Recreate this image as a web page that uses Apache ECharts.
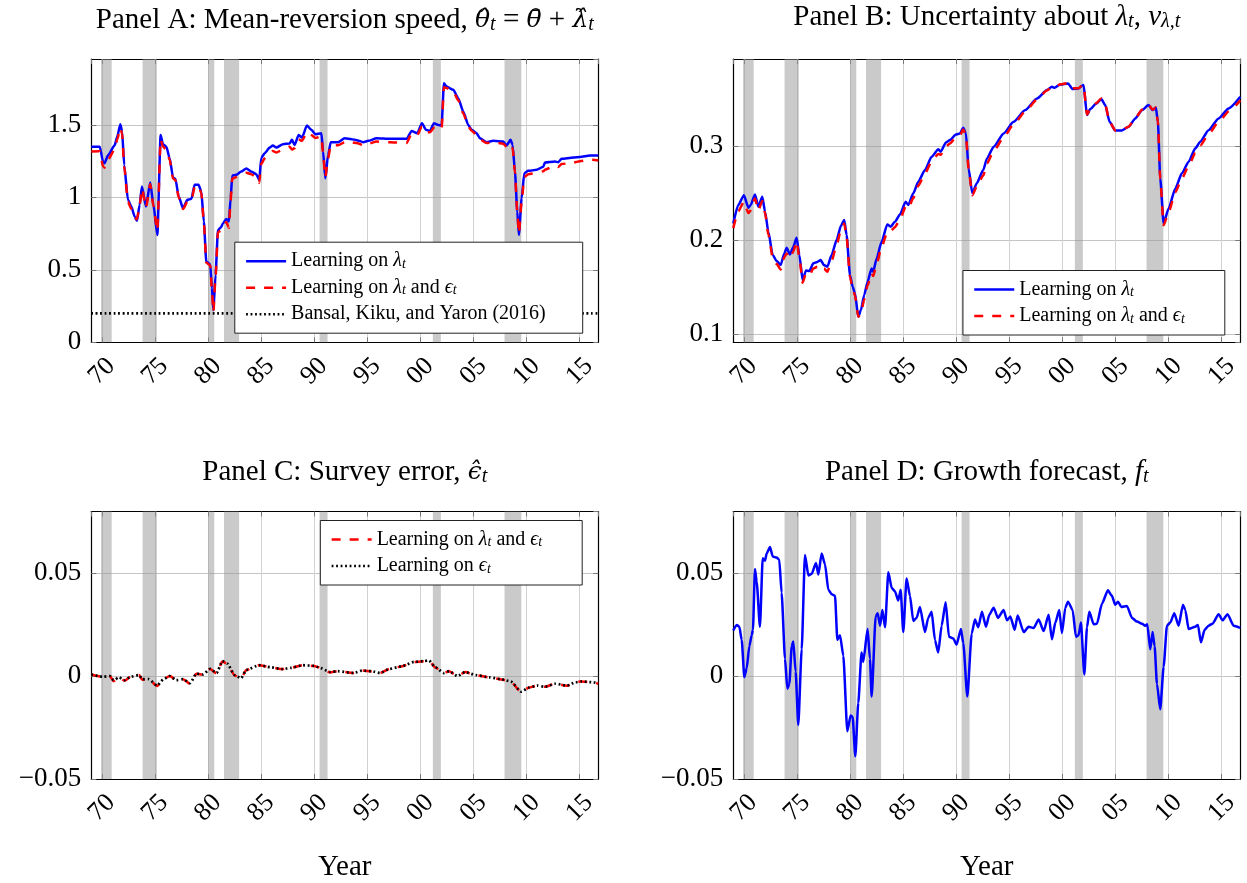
<!DOCTYPE html>
<html><head><meta charset="utf-8">
<script src="https://cdn.jsdelivr.net/npm/echarts@6/dist/echarts.min.js"></script>
<style>html,body{margin:0;padding:0;background:#fff}#c{width:1247px;height:883px}</style>
</head><body><div id="c"></div>
<script>
// ---------------- DATA ----------------
const xTickYears = [1970,1975,1980,1985,1990,1995,2000,2005,2010,2015];
const xTickLabels = ['70','75','80','85','90','95','00','05','10','15'];
const yTicksA = [0,0.5,1,1.5];           const yTickLabelsA = ['0','0.5','1','1.5'];
const yTicksB = [0.1,0.2,0.3];           const yTickLabelsB = ['0.1','0.2','0.3'];
const yTicksCD = [-0.05,0,0.05];         const yTickLabelsCD = ['\u22120.05','0','0.05'];

// NBER recessions [start, end] in years
const recessions = [[1969.92,1970.92],[1973.83,1975.17],[1980.0,1980.58],[1981.5,1982.92],[1990.5,1991.25],[2001.17,2001.92],[2007.92,2009.5]];

// Panel A: mean-reversion speed
const thetaLearnLam = [[1969.0,1.349],[1969.8,1.35],[1970.1,1.247],[1970.25,1.236],[1970.57,1.29],[1971.2,1.36],[1971.45,1.42],[1971.73,1.505],[1971.9,1.455],[1972.1,1.224],[1972.45,0.983],[1972.77,0.937],[1973.08,0.868],[1973.3,0.838],[1973.55,0.948],[1973.77,1.075],[1974.15,0.937],[1974.55,1.103],[1974.85,0.95],[1975.22,0.74],[1975.53,1.43],[1975.75,1.367],[1976.07,1.35],[1976.38,1.27],[1976.7,1.137],[1976.92,1.128],[1977.23,1.006],[1977.64,0.925],[1978.05,0.983],[1978.43,0.99],[1978.73,1.087],[1979.1,1.087],[1979.36,1.04],[1979.6,0.833],[1979.83,0.557],[1980.2,0.538],[1980.36,0.373],[1980.5,0.223],[1980.7,0.465],[1980.93,0.775],[1981.18,0.79],[1981.4,0.82],[1981.71,0.851],[1981.96,0.833],[1982.12,0.994],[1982.28,1.151],[1982.65,1.156],[1983.12,1.178],[1983.6,1.2],[1984.07,1.178],[1984.54,1.16],[1984.82,1.12],[1985.0,1.27],[1985.33,1.305],[1985.8,1.344],[1986.1,1.358],[1986.43,1.344],[1987.05,1.367],[1987.68,1.372],[1987.9,1.397],[1988.15,1.362],[1988.53,1.431],[1988.84,1.413],[1989.31,1.496],[1989.73,1.466],[1990.1,1.436],[1990.67,1.443],[1990.83,1.316],[1991.04,1.132],[1991.3,1.293],[1991.55,1.381],[1992.24,1.381],[1992.86,1.408],[1993.52,1.402],[1993.99,1.395],[1994.62,1.381],[1995.09,1.39],[1995.87,1.408],[1997.13,1.404],[1998.7,1.404],[1999.17,1.459],[1999.7,1.443],[2000.14,1.512],[2000.52,1.466],[2000.9,1.459],[2001.27,1.512],[2001.68,1.5],[2001.99,1.496],[2002.21,1.788],[2002.46,1.765],[2003.09,1.742],[2003.56,1.685],[2004.03,1.593],[2004.5,1.5],[2004.82,1.466],[2005.29,1.443],[2005.6,1.408],[2006.23,1.381],[2006.86,1.39],[2007.8,1.386],[2008.11,1.358],[2008.49,1.397],[2008.68,1.362],[2008.9,1.178],[2009.12,0.902],[2009.27,0.741],[2009.53,0.994],[2009.78,1.167],[2010.15,1.183],[2010.94,1.19],[2011.57,1.212],[2011.72,1.24],[2012.66,1.247],[2012.98,1.243],[2013.29,1.266],[2014.39,1.275],[2015.02,1.279],[2015.96,1.289],[2016.75,1.289]];
const thetaLearnLamEps = [[1969.0,1.317],[1969.8,1.318],[1970.1,1.215],[1970.25,1.205],[1970.57,1.26],[1971.2,1.33],[1971.45,1.40],[1971.73,1.48],[1971.9,1.44],[1972.1,1.21],[1972.45,0.97],[1972.77,0.92],[1973.08,0.86],[1973.3,0.85],[1973.55,0.94],[1973.77,1.06],[1974.15,0.93],[1974.55,1.09],[1974.85,0.94],[1975.22,0.77],[1975.53,1.40],[1975.75,1.35],[1976.07,1.33],[1976.38,1.26],[1976.7,1.13],[1976.92,1.12],[1977.23,1.0],[1977.64,0.92],[1978.05,0.97],[1978.43,0.98],[1978.73,1.07],[1979.1,1.08],[1979.36,1.03],[1979.6,0.83],[1979.83,0.55],[1980.2,0.53],[1980.36,0.36],[1980.5,0.21],[1980.7,0.45],[1980.93,0.76],[1981.18,0.77],[1981.4,0.80],[1981.71,0.83],[1981.96,0.79],[1982.12,0.98],[1982.28,1.13],[1982.65,1.14],[1983.12,1.16],[1983.6,1.17],[1984.07,1.16],[1984.54,1.14],[1984.82,1.10],[1985.0,1.23],[1985.33,1.27],[1985.8,1.30],[1986.1,1.32],[1986.43,1.31],[1987.05,1.33],[1987.68,1.35],[1987.9,1.33],[1988.15,1.34],[1988.53,1.40],[1988.84,1.39],[1989.31,1.45],[1989.73,1.43],[1990.1,1.41],[1990.67,1.42],[1990.83,1.30],[1991.04,1.14],[1991.3,1.27],[1991.55,1.36],[1992.24,1.36],[1992.86,1.38],[1993.52,1.38],[1993.99,1.375],[1994.62,1.36],[1995.09,1.37],[1995.87,1.385],[1997.13,1.38],[1998.7,1.375],[1999.17,1.44],[1999.7,1.43],[2000.14,1.49],[2000.52,1.45],[2000.9,1.45],[2001.27,1.48],[2001.68,1.48],[2001.99,1.47],[2002.21,1.76],[2002.46,1.755],[2003.09,1.73],[2003.56,1.67],[2004.03,1.58],[2004.5,1.49],[2004.82,1.46],[2005.29,1.43],[2005.6,1.40],[2006.23,1.375],[2006.86,1.38],[2007.8,1.37],[2008.11,1.35],[2008.49,1.37],[2008.68,1.34],[2008.9,1.17],[2009.12,0.90],[2009.27,0.75],[2009.53,0.97],[2009.78,1.14],[2010.15,1.16],[2010.94,1.17],[2011.57,1.18],[2011.72,1.19],[2012.66,1.22],[2012.98,1.21],[2013.29,1.23],[2014.39,1.24],[2015.02,1.25],[2015.96,1.26],[2016.75,1.255]];
const bkyTheta = [[1969.0,0.2],[2016.75,0.2]];

// Panel B: uncertainty about lambda
const nuLearnLam = [[1969.0,0.218],[1969.47,0.2376],[1970.0,0.248],[1970.42,0.2347],[1970.64,0.2376],[1971.04,0.2489],[1971.36,0.2358],[1971.73,0.2464],[1971.99,0.2305],[1972.3,0.2092],[1972.71,0.1844],[1973.08,0.178],[1973.46,0.1737],[1973.8,0.186],[1974.02,0.192],[1974.34,0.185],[1974.65,0.193],[1974.96,0.2028],[1975.22,0.1844],[1975.53,0.1578],[1975.85,0.168],[1976.16,0.1673],[1976.54,0.1755],[1976.91,0.177],[1977.23,0.179],[1977.54,0.1737],[1977.86,0.172],[1978.26,0.1844],[1978.73,0.2003],[1979.14,0.2156],[1979.45,0.2216],[1979.67,0.2056],[1979.99,0.163],[1980.24,0.1507],[1980.46,0.1436],[1980.77,0.1187],[1981.02,0.1258],[1981.33,0.1418],[1981.65,0.156],[1982.02,0.170],[1982.18,0.1666],[1982.5,0.1808],[1982.97,0.1985],[1983.5,0.217],[1983.82,0.2145],[1984.22,0.2198],[1984.7,0.2276],[1985.23,0.241],[1985.48,0.2376],[1985.95,0.25],[1986.42,0.2624],[1987.05,0.2748],[1987.68,0.289],[1988.31,0.297],[1988.53,0.2943],[1989.03,0.3042],[1989.41,0.3067],[1989.97,0.3127],[1990.35,0.3138],[1990.66,0.3198],[1990.91,0.3138],[1991.16,0.2766],[1991.51,0.25],[1991.92,0.2606],[1992.54,0.2748],[1992.89,0.2872],[1993.52,0.2996],[1994.46,0.3138],[1995.4,0.3262],[1996.5,0.3386],[1997.6,0.351],[1998.54,0.3599],[1999.01,0.3634],[1999.26,0.3624],[1999.8,0.3659],[2000.52,0.367],[2000.96,0.361],[2001.52,0.3617],[2001.84,0.3645],[2001.99,0.3652],[2002.31,0.3333],[2002.62,0.3397],[2003.19,0.3457],[2003.66,0.3503],[2004.03,0.344],[2004.44,0.3262],[2004.97,0.317],[2005.6,0.317],[2006.23,0.3209],[2006.86,0.3298],[2007.49,0.3386],[2008.11,0.344],[2008.49,0.3386],[2008.8,0.341],[2008.99,0.3262],[2009.21,0.2659],[2009.53,0.218],[2010.0,0.234],[2010.63,0.2553],[2011.25,0.2713],[2011.88,0.2836],[2012.51,0.2979],[2012.98,0.305],[2013.76,0.3173],[2014.71,0.3298],[2015.65,0.3404],[2016.75,0.3528]];
const nuLearnLamEps = [[1969.0,0.213],[1969.47,0.231],[1970.0,0.241],[1970.42,0.229],[1970.64,0.232],[1971.04,0.2446],[1971.36,0.232],[1971.73,0.242],[1971.99,0.229],[1972.3,0.206],[1972.71,0.182],[1973.08,0.175],[1973.46,0.169],[1973.8,0.182],[1974.02,0.186],[1974.34,0.181],[1974.65,0.188],[1974.96,0.199],[1975.22,0.182],[1975.53,0.155],[1975.85,0.165],[1976.16,0.163],[1976.54,0.17],[1976.91,0.172],[1977.23,0.174],[1977.54,0.170],[1977.86,0.1666],[1978.26,0.178],[1978.73,0.195],[1979.14,0.211],[1979.45,0.218],[1979.67,0.204],[1979.99,0.161],[1980.24,0.149],[1980.46,0.141],[1980.77,0.1187],[1981.02,0.122],[1981.33,0.137],[1981.65,0.152],[1982.02,0.165],[1982.18,0.162],[1982.5,0.175],[1982.97,0.193],[1983.5,0.209],[1983.82,0.210],[1984.22,0.214],[1984.7,0.222],[1985.23,0.236],[1985.48,0.234],[1985.95,0.245],[1986.42,0.258],[1987.05,0.271],[1987.68,0.284],[1988.31,0.292],[1988.53,0.291],[1989.03,0.300],[1989.41,0.303],[1989.97,0.310],[1990.35,0.312],[1990.66,0.318],[1990.91,0.312],[1991.16,0.276],[1991.51,0.248],[1991.92,0.257],[1992.54,0.269],[1992.89,0.282],[1993.52,0.295],[1994.46,0.3095],[1995.4,0.3235],[1996.5,0.337],[1997.6,0.350],[1998.54,0.3595],[1999.01,0.363],[1999.26,0.363],[1999.8,0.366],[2000.52,0.3675],[2000.96,0.362],[2001.52,0.362],[2001.84,0.3645],[2001.99,0.365],[2002.31,0.334],[2002.62,0.340],[2003.19,0.346],[2003.66,0.351],[2004.03,0.3445],[2004.44,0.326],[2004.97,0.317],[2005.6,0.3175],[2006.23,0.321],[2006.86,0.330],[2007.49,0.339],[2008.11,0.3445],[2008.49,0.339],[2008.8,0.3415],[2008.99,0.326],[2009.21,0.265],[2009.53,0.216],[2010.0,0.230],[2010.63,0.251],[2011.25,0.266],[2011.88,0.279],[2012.51,0.293],[2012.98,0.301],[2013.76,0.313],[2014.71,0.326],[2015.65,0.337],[2016.75,0.349]];

// Panel C: survey error
const epsLearnLamEps = [[1969.0,0.0008],[1970.08,-0.0004],[1970.75,0.0],[1971.1,-0.0025],[1971.6,-0.0006],[1972.13,-0.0022],[1972.7,-0.0003],[1973.5,0.0006],[1973.8,-0.0018],[1974.4,-0.0015],[1975.2,-0.0048],[1975.8,-0.0015],[1976.4,0.0001],[1977.0,-0.002],[1977.65,-0.0015],[1978.3,-0.0038],[1978.9,0.0012],[1979.5,0.0006],[1980.2,0.0035],[1980.8,0.0012],[1981.35,0.0071],[1981.8,0.006],[1982.5,0.0003],[1983.1,-0.0012],[1983.6,0.003],[1984.8,0.0053],[1985.9,0.0043],[1987.0,0.0034],[1987.8,0.004],[1988.9,0.0053],[1990.0,0.0049],[1990.4,0.0043],[1991.5,0.0018],[1992.2,0.0024],[1993.7,0.0015],[1994.5,0.0027],[1995.4,0.0023],[1996.2,0.0015],[1997.1,0.0035],[1998.2,0.0047],[1999.4,0.0068],[2000.3,0.0072],[2000.8,0.0075],[2001.4,0.0042],[2002.2,0.0014],[2002.7,0.0024],[2003.5,0.0],[2004.2,0.002],[2005.2,0.0004],[2006.5,-0.0006],[2007.6,-0.0016],[2008.5,-0.0027],[2009.5,-0.0078],[2010.2,-0.0056],[2011.0,-0.0046],[2011.7,-0.0052],[2012.7,-0.0037],[2013.8,-0.0047],[2014.6,-0.003],[2015.1,-0.0026],[2016.3,-0.003],[2016.75,-0.0037]];
const epsLearnEps = [[1969.0,0.0008],[1970.08,-0.0003],[1970.75,0.0],[1971.1,-0.002],[1971.6,-0.0006],[1972.13,-0.002],[1972.7,-0.0003],[1973.5,0.0005],[1973.8,-0.0015],[1974.4,-0.0015],[1975.2,-0.0046],[1975.8,-0.0015],[1976.4,0.0],[1977.0,-0.002],[1977.65,-0.0015],[1978.3,-0.0034],[1978.9,0.0012],[1979.5,0.0008],[1980.2,0.0035],[1980.8,0.0015],[1981.35,0.0073],[1981.8,0.0061],[1982.5,0.0005],[1983.1,-0.001],[1983.6,0.003],[1984.8,0.0053],[1985.9,0.0043],[1987.0,0.0034],[1987.8,0.004],[1988.9,0.0053],[1990.0,0.005],[1990.4,0.0043],[1991.5,0.002],[1992.2,0.0024],[1993.7,0.0015],[1994.5,0.0027],[1995.4,0.0024],[1996.2,0.0015],[1997.1,0.0035],[1998.2,0.0047],[1999.4,0.0069],[2000.3,0.0073],[2000.8,0.0076],[2001.4,0.0043],[2002.2,0.0015],[2002.7,0.0024],[2003.5,0.0],[2004.2,0.002],[2005.2,0.0005],[2006.5,-0.0006],[2007.6,-0.0015],[2008.5,-0.0026],[2009.5,-0.0076],[2010.2,-0.0056],[2011.0,-0.0046],[2011.7,-0.0052],[2012.7,-0.0037],[2013.8,-0.0046],[2014.6,-0.003],[2015.1,-0.0026],[2016.3,-0.003],[2016.75,-0.0037]];

// Panel D: growth forecast
const growthForecast = [[1969.0,0.0222],[1969.32,0.0249],[1969.57,0.024],[1969.79,0.0176],[1970.04,-0.0005],[1970.26,0.0038],[1970.51,0.0145],[1970.73,0.0199],[1970.85,0.0225],[1971.04,0.052],[1971.2,0.0459],[1971.51,0.024],[1971.77,0.0573],[1971.99,0.0561],[1972.14,0.0596],[1972.46,0.0627],[1972.71,0.0581],[1973.08,0.0576],[1973.33,0.0566],[1973.55,0.0405],[1973.87,0.0084],[1974.09,-0.0061],[1974.28,-0.0038],[1974.5,0.0145],[1974.65,0.0168],[1974.87,0.0023],[1975.12,-0.0237],[1975.44,0.013],[1975.75,0.0589],[1976.07,0.0489],[1976.38,0.0497],[1976.79,0.055],[1977.01,0.0494],[1977.32,0.0596],[1977.64,0.0543],[1977.95,0.042],[1978.26,0.0398],[1978.58,0.039],[1978.8,0.0176],[1979.05,0.0199],[1979.36,0.0099],[1979.74,-0.0268],[1980.05,-0.0191],[1980.24,-0.0199],[1980.49,-0.039],[1980.77,-0.013],[1981.08,0.0115],[1981.24,0.0069],[1981.65,0.0229],[1981.87,0.0084],[1982.03,-0.0099],[1982.41,0.029],[1982.6,0.0306],[1982.82,0.0245],[1983.04,0.0321],[1983.29,0.0237],[1983.6,0.0505],[1983.92,0.0428],[1984.22,0.0413],[1984.54,0.0367],[1984.76,0.042],[1985.01,0.0214],[1985.32,0.0474],[1985.64,0.039],[1985.95,0.0268],[1986.26,0.0283],[1986.58,0.0336],[1987.05,0.0214],[1987.36,0.0283],[1987.68,0.0313],[1987.99,0.0176],[1988.3,0.0115],[1988.62,0.0245],[1989.0,0.0359],[1989.31,0.0191],[1989.72,0.0183],[1990.03,0.0153],[1990.44,0.0229],[1990.66,0.016],[1991.04,-0.0099],[1991.45,0.0206],[1991.76,0.0275],[1992.07,0.0237],[1992.42,0.0313],[1992.8,0.024],[1993.11,0.0298],[1993.52,0.0332],[1993.93,0.0283],[1994.46,0.0321],[1994.78,0.0271],[1995.09,0.029],[1995.5,0.0225],[1995.78,0.0295],[1996.35,0.0214],[1996.81,0.024],[1997.29,0.0234],[1997.76,0.0275],[1998.23,0.0219],[1998.7,0.0298],[1999.01,0.0179],[1999.33,0.026],[1999.7,0.0321],[1999.95,0.0209],[2000.27,0.0332],[2000.52,0.0362],[2000.96,0.0321],[2001.27,0.0191],[2001.52,0.0199],[2001.74,0.026],[2002.06,0.0008],[2002.31,0.0237],[2002.53,0.0313],[2002.94,0.0252],[2003.25,0.0255],[2003.72,0.0352],[2004.28,0.0417],[2004.66,0.039],[2004.97,0.0347],[2005.23,0.0362],[2005.54,0.0336],[2006.07,0.0341],[2006.55,0.0283],[2007.02,0.0265],[2007.49,0.0255],[2007.8,0.0245],[2007.99,0.0252],[2008.27,0.013],[2008.49,0.0214],[2008.68,0.0145],[2008.9,-0.0038],[2009.21,-0.0161],[2009.53,0.0046],[2009.84,0.0245],[2010.15,0.026],[2010.53,0.0306],[2010.94,0.0245],[2011.35,0.0347],[2011.57,0.0321],[2011.88,0.0229],[2012.51,0.024],[2012.76,0.0249],[2013.04,0.0164],[2013.39,0.0225],[2013.76,0.0245],[2014.14,0.0255],[2014.71,0.0301],[2015.08,0.0271],[2015.55,0.0301],[2016.12,0.0245],[2016.75,0.0234]];

// ---------------- CHART ----------------
const FONT = 'Liberation Serif';
const xMin = 1969.0, xMax = 2016.75;
const N1 = 'Learning on \u03bbt', N2 = 'Learning on \u03bbt and \u03f5t', N3 = 'Bansal, Kiku, and Yaron (2016)', N4 = 'Learning on \u03f5t';
const legendRich = {
  m: {fontFamily: FONT, fontSize: 20, fontStyle: 'italic', lineHeight: 20, color: '#000'},
  s: {fontFamily: FONT, fontSize: 14, fontStyle: 'italic', lineHeight: 6, verticalAlign: 'bottom', color: '#000'}
};
const legendText = {};
legendText[N1] = 'Learning on {m|\u03bb}{s|t}';
legendText[N2] = 'Learning on {m|\u03bb}{s|t} and {m|\u03f5}{s|t}';
legendText[N3] = 'Bansal, Kiku, and Yaron (2016)';
legendText[N4] = 'Learning on {m|\u03f5}{s|t}';

const grids = [
  {left: 91.3, top: 59, width: 507, height: 283.3},
  {left: 733.3, top: 59, width: 507, height: 283.3},
  {left: 91.3, top: 511.5, width: 507, height: 284},
  {left: 733.3, top: 511.5, width: 507, height: 284}
];

function lookup(ticks, labels) {
  return function (v) {
    for (let i = 0; i < ticks.length; i++) if (Math.abs(v - ticks[i]) < 1e-6) return labels[i];
    return '';
  };
}
const xAxes = [], yAxes = [];
function addPanel(g, yMin, yMax, yInt, yTicks, yLabels, showMin, withName) {
  const xc = {type: 'value', gridIndex: g, min: xMin, max: xMax, minInterval: 5, maxInterval: 5,
    axisLine: {show: true, onZero: false, lineStyle: {color: '#000', width: 1.2}},
    axisTick: {show: true, inside: true, length: 5, lineStyle: {color: '#777', width: 1}}};
  xAxes.push(Object.assign({}, xc, {position: 'bottom',
    axisLabel: {show: true, rotate: 45, margin: 29, align: 'center', verticalAlign: 'middle', fontSize: 26, color: '#000', fontFamily: FONT,
      showMinLabel: false, showMaxLabel: false, formatter: lookup(xTickYears, xTickLabels)},
    splitLine: {show: true, lineStyle: {color: '#d2d2d2', width: 1}},
    name: withName ? 'Year' : '', nameLocation: 'middle', nameGap: 74,
    nameTextStyle: {fontSize: 29, color: '#000', fontFamily: FONT}}));
  xAxes.push(Object.assign({}, xc, {position: 'top', axisLabel: {show: false}, splitLine: {show: false}}));
  const yc = {type: 'value', gridIndex: g, min: yMin, max: yMax, minInterval: yInt, maxInterval: yInt,
    axisLine: {show: true, onZero: false, lineStyle: {color: '#000', width: 1.2}},
    axisTick: {show: true, inside: true, length: 5, lineStyle: {color: '#777', width: 1}}};
  yAxes.push(Object.assign({}, yc, {position: 'left',
    axisLabel: {show: true, margin: 10, fontSize: 27, color: '#000', fontFamily: FONT, showMinLabel: showMin, showMaxLabel: false,
      formatter: lookup(yTicks, yLabels)},
    splitLine: {show: true, lineStyle: {color: '#c4c4c4', width: 1}}}));
  yAxes.push(Object.assign({}, yc, {position: 'right', axisLabel: {show: false}, splitLine: {show: false}}));
}
addPanel(0, 0, 1.955, 0.5, yTicksA, yTickLabelsA, true, false);
addPanel(1, 0.0915, 0.393, 0.1, yTicksB, yTickLabelsB, false, false);
addPanel(2, -0.05, 0.08, 0.05, yTicksCD, yTickLabelsCD, true, true);
addPanel(3, -0.05, 0.08, 0.05, yTicksCD, yTickLabelsCD, true, true);

const bands = {silent: true, itemStyle: {color: 'rgba(150,150,150,0.5)'},
  data: recessions.map(r => [{xAxis: r[0]}, {xAxis: r[1]}])};

function line(name, data, g, color, dash, withBands, z, width) {
  const s = {type: 'line', name: name, data: data, xAxisIndex: 2 * g, yAxisIndex: 2 * g,
    symbol: 'none', showSymbol: false, smooth: 0.2, smoothMonotone: 'x', silent: true, z: z || 2,
    lineStyle: {color: color, width: width || 2.5, type: dash || 'solid', cap: 'butt'}, itemStyle: {color: color}};
  if (withBands) s.markArea = bands;
  return s;
}
const series = [
  line(N1, thetaLearnLam, 0, '#0000ff', null, true, 2),
  line(N2, thetaLearnLamEps, 0, '#ff0000', [9, 9], false, 3),
  line(N3, bkyTheta, 0, '#000000', [1.8, 2.7], false, 3, 2.7),
  line(N1, nuLearnLam, 1, '#0000ff', null, true, 2),
  line(N2, nuLearnLamEps, 1, '#ff0000', [9, 9], false, 3),
  line(N2, epsLearnLamEps, 2, '#ff0000', [9, 9], true, 2),
  line(N4, epsLearnEps, 2, '#000000', [1.8, 2.7], false, 3, 2.7),
  line('Growth forecast', growthForecast, 3, '#0000ff', null, true, 2)
];

function legend(names, right, top, padRight) {
  return {data: names, orient: 'vertical', right: right, top: top, selectedMode: false,
    backgroundColor: '#fff', borderColor: '#222', borderWidth: 1, borderRadius: 0,
    itemWidth: 40, itemHeight: 14, itemGap: 6.5, padding: [9, padRight, 9, 10],
    itemStyle: {color: 'rgba(0,0,0,0)', borderWidth: 0, opacity: 0},
    lineStyle: {width: 2.6},
    textStyle: {fontFamily: FONT, fontSize: 20, lineHeight: 20, color: '#000', rich: legendRich},
    formatter: n => legendText[n]};
}

const titleRich = {
  m: {fontFamily: FONT, fontSize: 29, fontStyle: 'italic', lineHeight: 29, color: '#000'},
  h: {fontFamily: 'DejaVu Serif', fontSize: 25, fontStyle: 'italic', lineHeight: 29, color: '#000'},
  s: {fontFamily: FONT, fontSize: 20, fontStyle: 'italic', lineHeight: 8, verticalAlign: 'bottom', color: '#000'}
};
function title(text, cx, top) {
  return {text: text, left: cx, top: top, textAlign: 'center', padding: 0,
    textStyle: {fontFamily: FONT, fontSize: 29, fontWeight: 'normal', color: '#000', lineHeight: 29, rich: titleRich}};
}

const option = {
  animation: false,
  backgroundColor: '#fff',
  textStyle: {fontFamily: FONT},
  title: [
    title('Panel A: Mean-reversion speed, {h|\u03b8\u0302}{s|t} = {h|\u03b8\u0304} + {h|\u03bb\u0302}{s|t}', 344.8, 6),
    title('Panel B: Uncertainty about {m|\u03bb}{s|t}, {m|\u03bd}{s|\u03bb,t}', 986.8, 3),
    title('Panel C: Survey error, {h|\u03f5\u0302}{s|t}', 344.8, 458),
    title('Panel D: Growth forecast, {m|f}{s|t}', 986.8, 458)
  ],
  legend: [
    legend([N1, N2, N3], 664.3, 242.2, 37),
    legend([N1, N2], 22.2, 270.5, 40),
    legend([N2, N4], 664.8, 520.5, 40)
  ],
  grid: grids,
  xAxis: xAxes,
  yAxis: yAxes,
  series: series
};
const chart = echarts.init(document.getElementById('c'));
chart.setOption(option);
</script></body></html>
